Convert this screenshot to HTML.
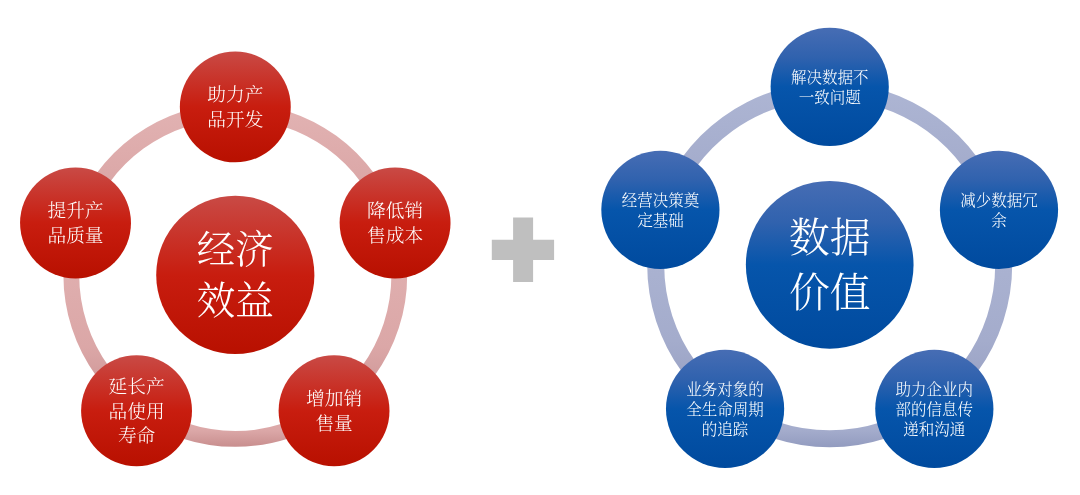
<!DOCTYPE html>
<html lang="zh-CN">
<head>
<meta charset="utf-8">
<title>经济效益 + 数据价值</title>
<style>
html,body{margin:0;padding:0;background:#fff;}
body{width:1080px;height:495px;overflow:hidden;}
svg{display:block;will-change:transform;}
text{font-family:"Liberation Serif","Noto Serif CJK SC",serif;fill:#fff;text-anchor:middle;}
</style>
</head>
<body>
<svg width="1080" height="495" viewBox="0 0 1080 495">
<defs>
<linearGradient id="Lfill" x1="0" y1="0" x2="0" y2="1">
<stop offset="0" stop-color="#c94a45"/><stop offset="0.5" stop-color="#c81d0f"/><stop offset="1" stop-color="#b81000"/>
</linearGradient>
<linearGradient id="Rfill" x1="0" y1="0" x2="0" y2="1">
<stop offset="0" stop-color="#476db4"/><stop offset="0.25" stop-color="#3062ae"/><stop offset="0.5" stop-color="#0655ab"/><stop offset="1" stop-color="#004a9e"/>
</linearGradient>
<linearGradient id="Lring" x1="0" y1="0" x2="0" y2="1">
<stop offset="0" stop-color="#e2b3b3"/><stop offset="0.65" stop-color="#dba7a7"/><stop offset="1" stop-color="#c88e8e"/>
</linearGradient>
<linearGradient id="Rring" x1="0" y1="0" x2="0" y2="1">
<stop offset="0" stop-color="#aeb6d4"/><stop offset="0.65" stop-color="#a4accc"/><stop offset="1" stop-color="#929bbf"/>
</linearGradient>
</defs>
<rect width="1080" height="495" fill="#fff"/>
<g>
<path d="M235.30 103.00A171.9 171.9 0 0 1 398.79 221.78L383.76 226.66A156.1 156.1 0 0 0 235.30 118.80Z" fill="url(#Lring)"/>
<path d="M398.79 221.78A171.9 171.9 0 0 1 336.34 413.97L327.05 401.19A156.1 156.1 0 0 0 383.76 226.66Z" fill="url(#Lring)"/>
<path d="M336.34 413.97A171.9 171.9 0 0 1 134.26 413.97L143.55 401.19A156.1 156.1 0 0 0 327.05 401.19Z" fill="url(#Lring)"/>
<path d="M134.26 413.97A171.9 171.9 0 0 1 71.81 221.78L86.84 226.66A156.1 156.1 0 0 0 143.55 401.19Z" fill="url(#Lring)"/>
<path d="M71.81 221.78A171.9 171.9 0 0 1 235.30 103.00L235.30 118.80A156.1 156.1 0 0 0 86.84 226.66Z" fill="url(#Lring)"/>
<circle cx="235.3" cy="274.9" r="79.1" fill="url(#Lfill)"/>
<text x="235.30" y="263.26" font-size="38.5" font-weight="300">经济</text>
<text x="235.30" y="314.26" font-size="38.5" font-weight="300">效益</text>
<circle cx="235.30" cy="106.90" r="55.45" fill="url(#Lfill)"/>
<text x="235.30" y="101.37" font-size="18.67" font-weight="300">助力产</text>
<text x="235.30" y="125.87" font-size="18.67" font-weight="300">品开发</text>
<circle cx="395.08" cy="222.99" r="55.45" fill="url(#Lfill)"/>
<text x="395.08" y="217.46" font-size="18.67" font-weight="300">降低销</text>
<text x="395.08" y="241.96" font-size="18.67" font-weight="300">售成本</text>
<circle cx="334.05" cy="410.81" r="55.45" fill="url(#Lfill)"/>
<text x="334.05" y="405.29" font-size="18.67" font-weight="300">增加销</text>
<text x="334.05" y="429.79" font-size="18.67" font-weight="300">售量</text>
<circle cx="136.55" cy="410.81" r="55.45" fill="url(#Lfill)"/>
<text x="136.55" y="393.04" font-size="18.67" font-weight="300">延长产</text>
<text x="136.55" y="417.54" font-size="18.67" font-weight="300">品使用</text>
<text x="136.55" y="442.04" font-size="18.67" font-weight="300">寿命</text>
<circle cx="75.52" cy="222.99" r="55.45" fill="url(#Lfill)"/>
<text x="75.52" y="217.46" font-size="18.67" font-weight="300">提升产</text>
<text x="75.52" y="241.96" font-size="18.67" font-weight="300">品质量</text>
</g>
<g>
<path d="M513.1 217.6H533.1V239.8H554.1V259.9H533.1V282.1H513.1V259.9H491.8V239.8H513.1Z" fill="#bfbfbf"/>
</g>
<g>
<path d="M829.70 82.30A182.5 182.5 0 0 1 1003.27 208.40L987.10 213.66A165.5 165.5 0 0 0 829.70 99.30Z" fill="url(#Rring)"/>
<path d="M1003.27 208.40A182.5 182.5 0 0 1 936.97 412.45L926.98 398.69A165.5 165.5 0 0 0 987.10 213.66Z" fill="url(#Rring)"/>
<path d="M936.97 412.45A182.5 182.5 0 0 1 722.43 412.45L732.42 398.69A165.5 165.5 0 0 0 926.98 398.69Z" fill="url(#Rring)"/>
<path d="M722.43 412.45A182.5 182.5 0 0 1 656.13 208.40L672.30 213.66A165.5 165.5 0 0 0 732.42 398.69Z" fill="url(#Rring)"/>
<path d="M656.13 208.40A182.5 182.5 0 0 1 829.70 82.30L829.70 99.30A165.5 165.5 0 0 0 672.30 213.66Z" fill="url(#Rring)"/>
<circle cx="829.7" cy="264.8" r="83.85" fill="url(#Rfill)"/>
<text x="829.70" y="252.24" font-size="40.8" font-weight="300">数据</text>
<text x="829.70" y="306.74" font-size="40.8" font-weight="300">价值</text>
<circle cx="829.70" cy="86.80" r="59.1" fill="url(#Rfill)"/>
<text x="829.70" y="82.98" font-size="15.5" font-weight="300">解决数据不</text>
<text x="829.70" y="102.98" font-size="15.5" font-weight="300">一致问题</text>
<circle cx="998.99" cy="209.79" r="59.1" fill="url(#Rfill)"/>
<text x="998.99" y="205.97" font-size="15.5" font-weight="300">减少数据冗</text>
<text x="998.99" y="225.97" font-size="15.5" font-weight="300">余</text>
<circle cx="934.33" cy="408.81" r="59.1" fill="url(#Rfill)"/>
<text x="934.33" y="394.99" font-size="15.5" font-weight="300">助力企业内</text>
<text x="934.33" y="414.99" font-size="15.5" font-weight="300">部的信息传</text>
<text x="934.33" y="434.99" font-size="15.5" font-weight="300">递和沟通</text>
<circle cx="725.07" cy="408.81" r="59.1" fill="url(#Rfill)"/>
<text x="725.07" y="394.99" font-size="15.5" font-weight="300">业务对象的</text>
<text x="725.07" y="414.99" font-size="15.5" font-weight="300">全生命周期</text>
<text x="725.07" y="434.99" font-size="15.5" font-weight="300">的追踪</text>
<circle cx="660.41" cy="209.79" r="59.1" fill="url(#Rfill)"/>
<text x="660.41" y="205.97" font-size="15.5" font-weight="300">经营决策奠</text>
<text x="660.41" y="225.97" font-size="15.5" font-weight="300">定基础</text>
</g>
</svg>
</body>
</html>
